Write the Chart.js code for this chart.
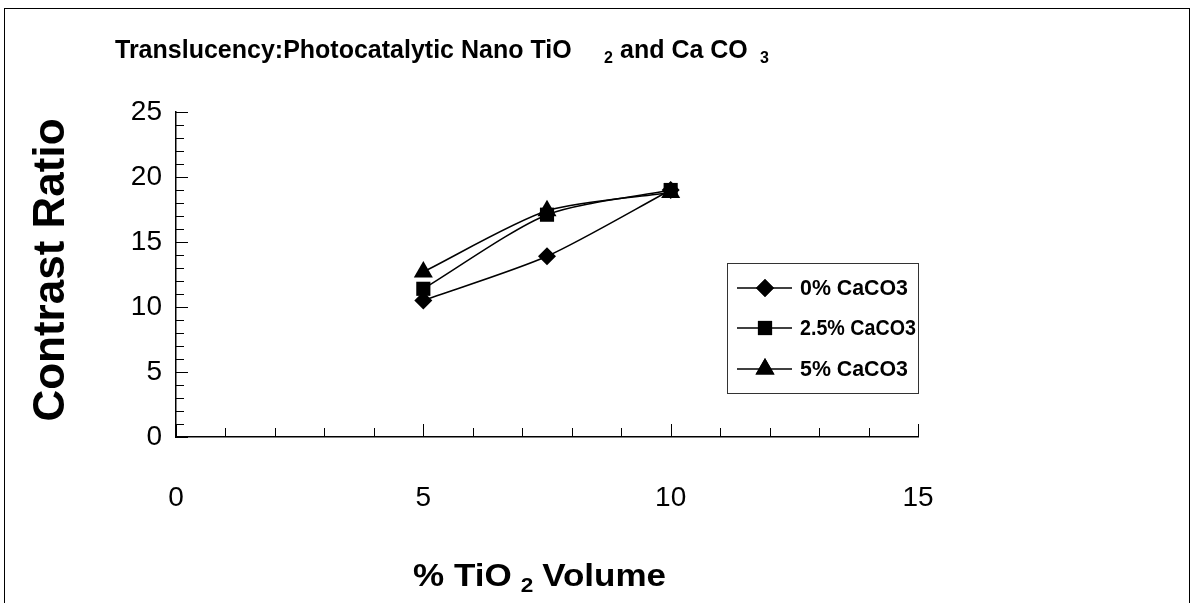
<!DOCTYPE html>
<html><head><meta charset="utf-8">
<script src="https://cdn.jsdelivr.net/npm/chart.js@4.4.1/dist/chart.umd.min.js"></script>
<style>html,body{margin:0;padding:0;background:#fff;overflow:hidden}canvas{display:block}</style>
</head><body>
<canvas id="c" width="1194" height="603"></canvas>
<script>
// ---- data ----
const xValues = [5, 7.5, 10];
const seriesLabels = ['0% CaCO3', '2.5% CaCO3', '5% CaCO3'];
const caco3_0 = [10.5, 13.9, 19.0];
const caco3_25 = [11.4, 17.1, 19.0];
const caco3_5 = [12.7, 17.4, 18.8];
const xTickValues = [0, 5, 10, 15];
const yTickValues = [0, 5, 10, 15, 20, 25];
const titleMain = 'Translucency:Photocatalytic Nano TiO';
const titleSub1 = '2';
const titleMid = 'and Ca CO';
const titleSub2 = '3';
const yTitle = 'Contrast Ratio';
const xTitleA = '% TiO';
const xTitleSub = '2';
const xTitleB = 'Volume';

const FONT = '"Liberation Sans", Arial, Helvetica, sans-serif';
const seriesValues = [caco3_0, caco3_25, caco3_5];
const pointStyles = ['rectRot', 'rect', 'triangle'];
const pointRadii = [9, 10, 11];

const datasets = seriesValues.map((vals, i) => ({
  label: seriesLabels[i],
  data: xValues.map((x, j) => ({x: x, y: vals[j]})),
  borderColor: '#000',
  backgroundColor: '#000',
  borderWidth: 1.5,
  pointStyle: pointStyles[i],
  pointRadius: pointRadii[i],
  pointBorderWidth: 0,
  pointBackgroundColor: '#000',
  tension: 0.25,
  fill: false
}));

const decor = {
  id: 'decor',
  afterDraw(chart) {
    const ctx = chart.ctx;
    const xs = chart.scales.x, ys = chart.scales.y;
    const area = chart.chartArea;
    ctx.save();
    // outer frame
    ctx.strokeStyle = '#000';
    ctx.lineWidth = 1;
    ctx.strokeRect(4.5, 8.5, 1185, 620);
    // minor/major tick marks (inside)
    for (let v = 0; v <= 25; v++) {
      const y = Math.round(ys.getPixelForValue(v)) + 0.5;
      const len = v % 5 === 0 ? 12 : 8;
      ctx.beginPath(); ctx.moveTo(area.left, y); ctx.lineTo(area.left + len, y); ctx.stroke();
    }
    for (let v = 0; v <= 15; v++) {
      const x = Math.round(xs.getPixelForValue(v)) + 0.5;
      const len = v % 5 === 0 ? 13 : 9;
      ctx.beginPath(); ctx.moveTo(x, area.bottom); ctx.lineTo(x, area.bottom - len); ctx.stroke();
    }
    ctx.fillStyle = '#000';
    // title
    ctx.textBaseline = 'alphabetic';
    ctx.textAlign = 'left';
    ctx.font = 'bold 25px ' + FONT;
    ctx.fillText(titleMain, 115, 58, 457);
    ctx.font = 'bold 16px ' + FONT;
    ctx.fillText(titleSub1, 604, 63);
    ctx.font = 'bold 25px ' + FONT;
    ctx.fillText(titleMid, 620, 58, 134);
    ctx.font = 'bold 16px ' + FONT;
    ctx.fillText(titleSub2, 760, 63);
    // y title
    ctx.save();
    ctx.translate(52, 270);
    ctx.rotate(-Math.PI / 2);
    ctx.textAlign = 'center';
    ctx.textBaseline = 'middle';
    ctx.font = 'bold 44px ' + FONT;
    ctx.fillText(yTitle, 0, 0);
    ctx.restore();
    // x title (slightly widened like the original)
    ctx.save();
    ctx.translate(413, 586);
    ctx.scale(1.13, 1);
    ctx.textAlign = 'left';
    ctx.textBaseline = 'alphabetic';
    ctx.font = 'bold 31px ' + FONT;
    ctx.fillText(xTitleA, 0, 0);
    const wA = ctx.measureText(xTitleA).width;
    ctx.font = 'bold 20px ' + FONT;
    ctx.fillText(xTitleSub, wA + 8, 6);
    ctx.font = 'bold 31px ' + FONT;
    ctx.fillText(xTitleB, wA + 27, 0);
    ctx.restore();
    // legend
    const lx = 727, ly = 263, lw = 191, lh = 130;
    ctx.lineWidth = 1;
    ctx.strokeStyle = '#333';
    ctx.strokeRect(lx + 0.5, ly + 0.5, lw, lh);
    ctx.strokeStyle = '#000';
    const rows = [288, 328, 369];
    chart.data.datasets.forEach((ds, i) => {
      const y = rows[i];
      ctx.lineWidth = 1.5;
      ctx.beginPath(); ctx.moveTo(737, y); ctx.lineTo(792, y); ctx.stroke();
      Chart.helpers.drawPoint(ctx, {pointStyle: ds.pointStyle, radius: ds.pointRadius, rotation: 0, borderWidth: 0}, 765, y);
      ctx.fill();
      ctx.font = 'bold 22px ' + FONT;
      ctx.textBaseline = 'middle';
      ctx.fillText(ds.label, 800, y + 1, i === 1 ? 116 : 108);
    });
    ctx.restore();
  }
};

new Chart(document.getElementById('c'), {
  type: 'line',
  data: {datasets: datasets},
  options: {
    responsive: false,
    devicePixelRatio: 1,
    animation: false,
    layout: {padding: {top: 112, right: 276, left: 0, bottom: 0}},
    plugins: {legend: {display: false}, title: {display: false}, tooltip: {enabled: false}},
    scales: {
      x: {
        type: 'linear', min: 0, max: 15,
        afterFit(s) { s.height = 166; },
        afterBuildTicks(s) { s.ticks = xTickValues.map(v => ({value: v})); },
        grid: {display: false, drawTicks: false},
        border: {display: true, color: '#000', width: 1.5},
        ticks: {color: '#000', font: {family: FONT, size: 28}, padding: 44, maxRotation: 0}
      },
      y: {
        type: 'linear', min: 0, max: 25,
        afterFit(s) { s.width = 176; },
        afterBuildTicks(s) { s.ticks = yTickValues.map(v => ({value: v})); },
        grid: {display: false, drawTicks: false},
        border: {display: true, color: '#000', width: 1.5},
        ticks: {color: '#000', font: {family: FONT, size: 28}, padding: 14}
      }
    }
  },
  plugins: [decor]
});
</script>
</body></html>
